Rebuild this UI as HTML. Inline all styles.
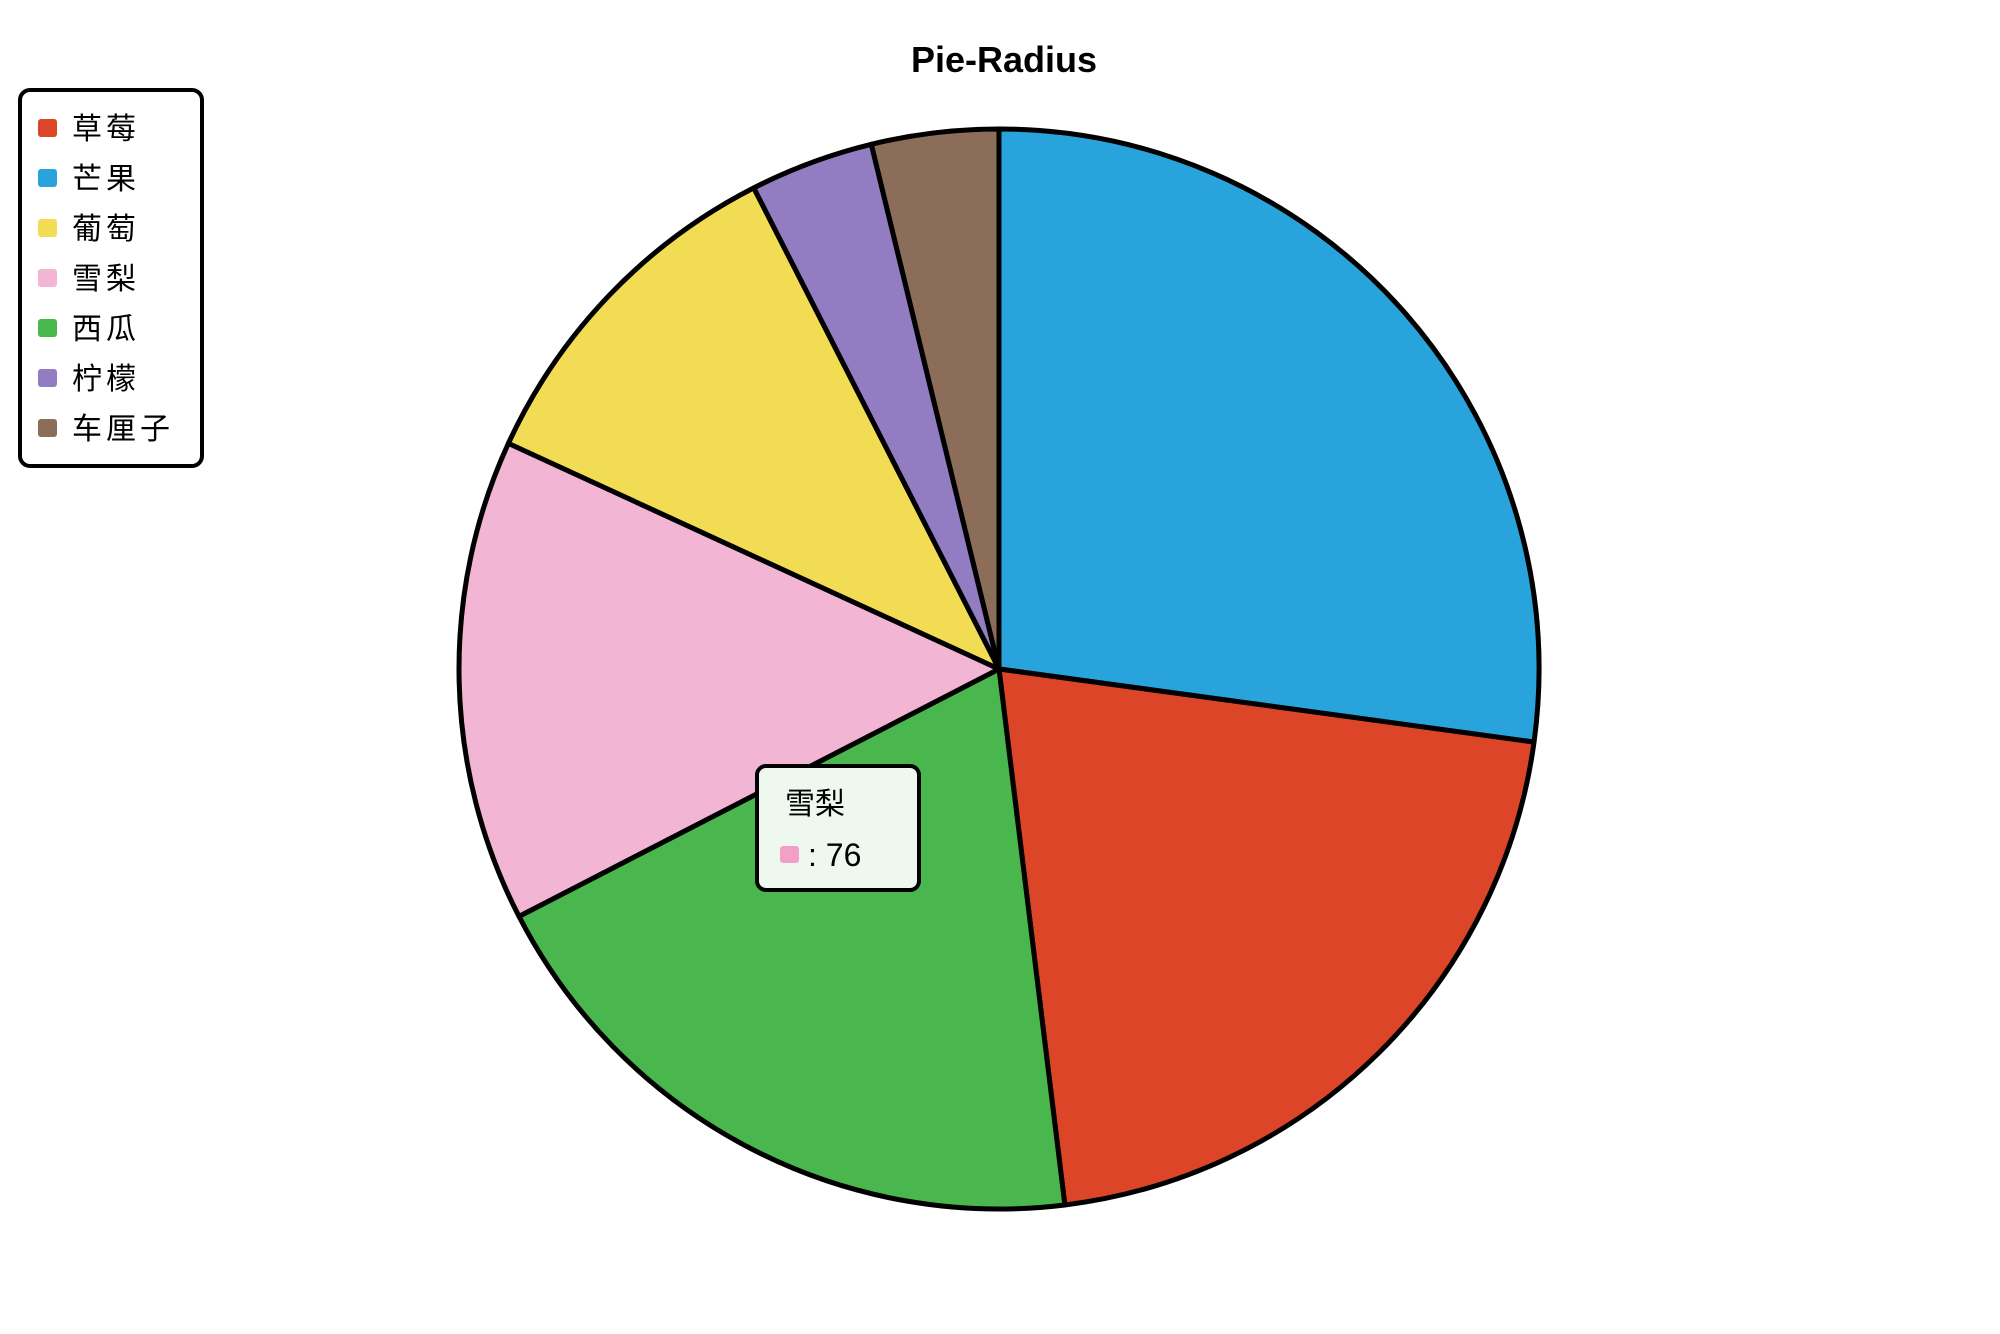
<!DOCTYPE html>
<html><head><meta charset="utf-8">
<style>
html,body{margin:0;padding:0;background:#fff;}
svg{display:block;}
text{font-family:"Liberation Sans","Noto Sans CJK SC",sans-serif;}
</style></head>
<body>
<svg id="chart" width="2000" height="1334" viewBox="0 0 2000 1334">
  <text x="1004" y="72" text-anchor="middle" font-size="36" font-weight="bold" fill="#000">Pie-Radius</text>
  <g id="slices"></g>
  <g id="legend">
    <rect x="20" y="90" width="182" height="376" rx="10" fill="#fff" stroke="#000" stroke-width="4"/>
  </g>
  <g>
    <rect x="757" y="766" width="162" height="124" rx="9" fill="#eef8ee" stroke="#000" stroke-width="4"/>
    <text x="785" y="814" font-size="30" fill="#000">雪梨</text>
    <rect x="780" y="846" width="19" height="17" rx="3" fill="#f2a0c8"/>
    <text x="808" y="866" font-size="32" fill="#000">: 76</text>
  </g>
</svg>
<script>
const labels = ["芒果","草莓","西瓜","雪梨","葡萄","柠檬","车厘子"];
const values = [143,110,102,76,56,19.5,20];
const colors = ["#29a3dc","#dd4528","#4ab74e","#f2b6d4","#f2dc53","#937dc2","#8c6d5a"];
const legendOrder = ["草莓","芒果","葡萄","雪梨","西瓜","柠檬","车厘子"];
const NS="http://www.w3.org/2000/svg";
const cx=999, cy=669, r=540;
const total=values.reduce((a,b)=>a+b,0);
function pt(a){return [cx+r*Math.sin(a), cy-r*Math.cos(a)];}
let ang=0;
const g=document.getElementById('slices');
values.forEach((v,i)=>{
  const a0=ang, a1=ang+v/total*2*Math.PI; ang=a1;
  const p0=pt(a0), p1=pt(a1);
  const large=(a1-a0)>Math.PI?1:0;
  const p=document.createElementNS(NS,'path');
  p.setAttribute('d',`M${cx},${cy} L${p0[0]},${p0[1]} A${r},${r} 0 ${large} 1 ${p1[0]},${p1[1]} Z`);
  p.setAttribute('fill',colors[i]);
  p.setAttribute('stroke','#000');
  p.setAttribute('stroke-width','5');
  p.setAttribute('stroke-linejoin','round');
  
  
  g.appendChild(p);
});
const lg=document.getElementById('legend');
legendOrder.forEach((name,k)=>{
  const i=labels.indexOf(name);
  const y=128+k*50;
  const s=document.createElementNS(NS,'rect');
  s.setAttribute('x',38);s.setAttribute('y',y-9);s.setAttribute('width',19);s.setAttribute('height',18);s.setAttribute('rx',3);
  s.setAttribute('fill',colors[i]);
  
  
  lg.appendChild(s);
  const t=document.createElementNS(NS,'text');
  t.setAttribute('x',72);t.setAttribute('y',y+11);t.setAttribute('font-size','30');
  t.setAttribute('letter-spacing','4');
  t.textContent=name;
  
  
  lg.appendChild(t);
});
</script>
</body></html>
